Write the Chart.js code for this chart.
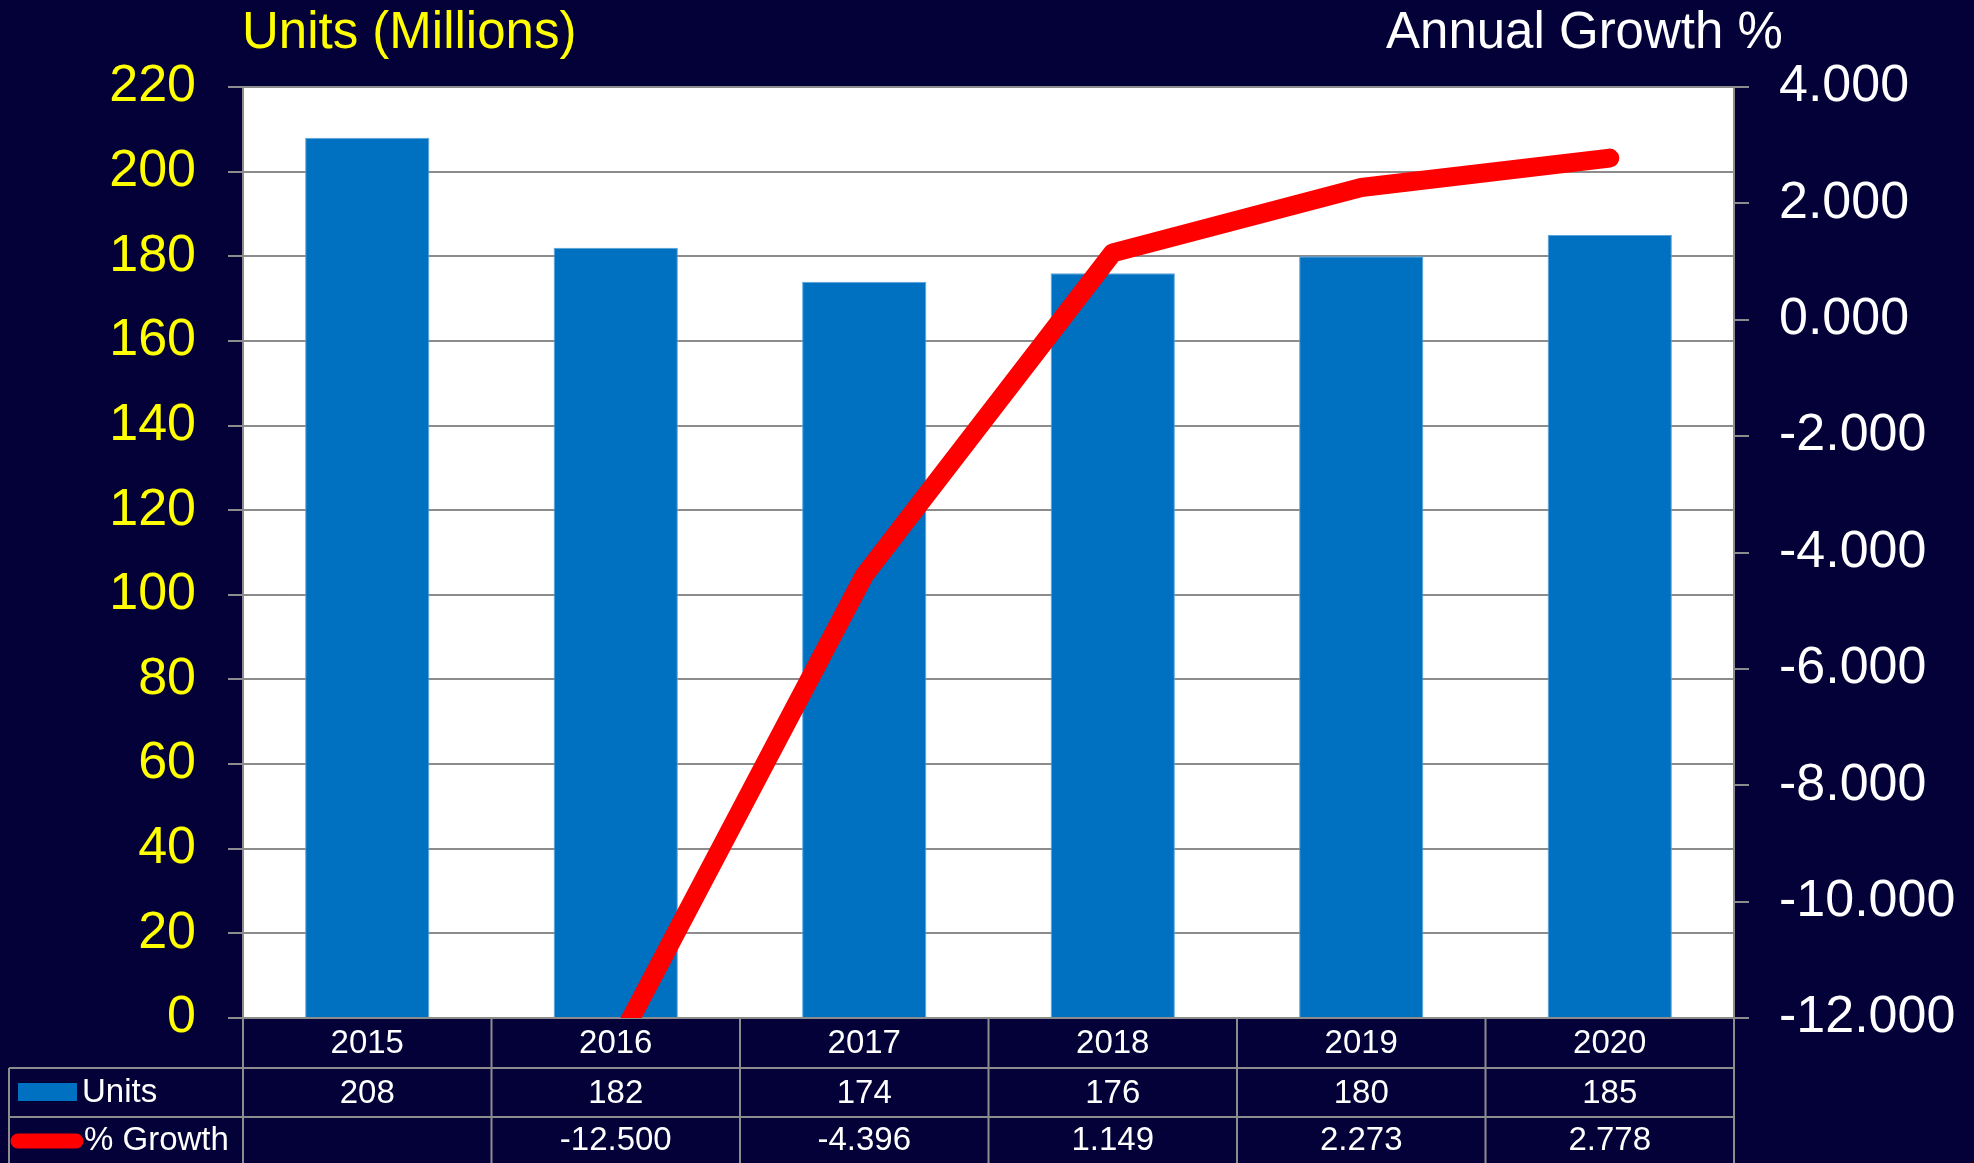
<!DOCTYPE html>
<html>
<head>
<meta charset="utf-8">
<script src="https://cdn.jsdelivr.net/npm/chart.js@4.4.1/dist/chart.umd.min.js"></script>
<style>
  html,body{margin:0;padding:0;background:#040038;}
  canvas{display:block;}
</style>
</head>
<body>
<canvas id="c" width="1974" height="1163"></canvas>
<script>
// ---- data ----
const years  = ['2015','2016','2017','2018','2019','2020'];
const units  = [208, 182, 174, 176, 180, 185];
const growth = [null, -12.5, -4.396, 1.149, 2.273, 2.778];

const NAVY='#040038', GRID='#8c8c8c', BLUE='#0070C0', RED='#FF0000';
const FONT='"Liberation Sans", Arial, sans-serif';

// background + white plot area
const bgPlugin={
  id:'bg',
  beforeDraw(ch){
    const {ctx,chartArea:a}=ch;
    ctx.save();
    ctx.fillStyle=NAVY; ctx.fillRect(0,0,ch.width,ch.height);
    ctx.fillStyle='#fff'; ctx.fillRect(a.left,a.top,a.right-a.left,a.bottom-a.top);
    ctx.restore();
  }
};

// axis titles + data table under the plot
const tablePlugin={
  id:'table',
  afterDraw(ch){
    const {ctx,chartArea:a}=ch, x=ch.scales.x;
    ctx.save();
    ctx.font='51px '+FONT; ctx.textBaseline='alphabetic'; ctx.textAlign='left';
    ctx.fillStyle='#FFFF00'; ctx.fillText('Units (Millions)',242,48);
    ctx.fillStyle='#fff'; ctx.fillText('Annual Growth %',1386,48);

    const r0=a.bottom, r1=1068, r2=1117, r3=ch.height+2, tl=9;
    ctx.strokeStyle=GRID; ctx.lineWidth=2;
    ctx.beginPath();
    ctx.moveTo(tl,r1); ctx.lineTo(a.right,r1);
    ctx.moveTo(tl,r2); ctx.lineTo(a.right,r2);
    ctx.moveTo(tl,r1); ctx.lineTo(tl,r3);
    const w=(a.right-a.left)/years.length;
    for(let i=0;i<=years.length;i++){
      const bx=i<years.length ? x.getPixelForValue(i)-w/2 : a.right;
      ctx.moveTo(bx,r0); ctx.lineTo(bx,r3);
    }
    ctx.stroke();

    ctx.font='33px '+FONT; ctx.fillStyle='#fff'; ctx.textBaseline='middle'; ctx.textAlign='center';
    years.forEach((y,i)=>{
      const cx=x.getPixelForValue(i);
      ctx.fillText(y,cx,(r0+r1)/2+1);
      ctx.fillText(String(units[i]),cx,(r1+r2)/2+1);
      if(growth[i]!=null) ctx.fillText(growth[i].toFixed(3),cx,1141);
    });

    // legend keys
    ctx.fillStyle=BLUE; ctx.fillRect(18,1083,59,18);
    ctx.strokeStyle=RED; ctx.lineWidth=15; ctx.lineCap='round';
    ctx.beginPath(); ctx.moveTo(18,1141); ctx.lineTo(76,1141); ctx.stroke();
    ctx.fillStyle='#fff'; ctx.textAlign='left';
    ctx.fillText('Units',82,1093);
    ctx.fillText('% Growth',84,1141);
    ctx.restore();
  }
};

new Chart(document.getElementById('c'),{
  data:{
    labels:years,
    datasets:[
      {type:'line',label:'% Growth',data:growth,yAxisID:'y2',order:0,
       borderColor:RED,borderWidth:19,pointRadius:0,borderCapStyle:'round',borderJoinStyle:'round',
       tension:0,clip:0,spanGaps:false},
      {type:'bar',label:'Units',data:units,yAxisID:'y',order:1,
       backgroundColor:BLUE,borderColor:'#5aa3dc',borderWidth:1,
       barPercentage:0.5,categoryPercentage:1}
    ]
  },
  options:{
    responsive:false,animation:false,
    layout:{padding:{top:87,bottom:145,left:0,right:0}},
    plugins:{legend:{display:false},tooltip:{enabled:false}},
    scales:{
      x:{display:false,offset:true},
      y:{position:'left',min:0,max:220,
         ticks:{stepSize:20,color:'#FFFF00',padding:32,font:{family:FONT,size:52}},
         grid:{color:GRID,lineWidth:2,tickLength:15,tickColor:GRID},
         border:{display:true,color:GRID,width:2},
         afterFit(s){s.width=243;}},
      y2:{position:'right',min:-12,max:4,
         ticks:{stepSize:2,color:'#fff',padding:30,font:{family:FONT,size:52},
                callback:v=>v.toFixed(3)},
         grid:{drawOnChartArea:false,tickLength:15,tickColor:GRID,lineWidth:2},
         border:{display:true,color:GRID,width:2},
         afterFit(s){s.width=240;}}
    }
  },
  plugins:[bgPlugin,tablePlugin]
});
</script>
</body>
</html>
